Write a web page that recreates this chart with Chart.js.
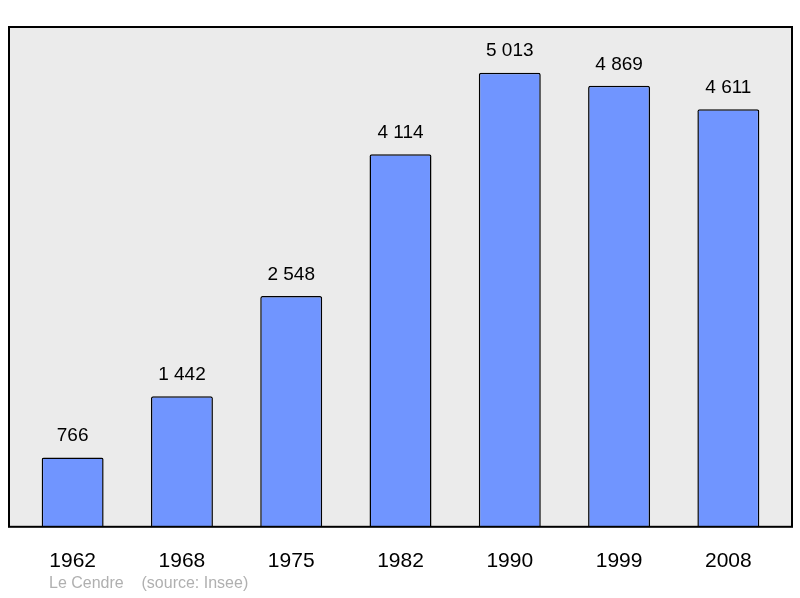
<!DOCTYPE html>
<html><head><meta charset="utf-8">
<script src="https://cdn.jsdelivr.net/npm/chart.js@4"></script>
<style>html,body{margin:0;padding:0;background:#fff}#w{width:800px;height:598px}</style>
</head><body><div id="w"><canvas id="c"></canvas></div>
<script>
const years = ["1962","1968","1975","1982","1990","1999","2008"];
const population = [766,1442,2548,4114,5013,4869,4611];
const valueLabels = ["766","1 442","2 548","4 114","5 013","4 869","4 611"];
const footerText = "Le Cendre    (source: Insee)";

const boxPlugin = {
  id:'box',
  beforeDatasetsDraw(chart){
    const a=chart.chartArea, c=chart.ctx;
    c.save();
    c.fillStyle='#ebebeb';
    c.fillRect(a.left-9,a.top,a.width+18,a.bottom-a.top);
    c.restore();
  },
  afterDatasetsDraw(chart){
    const a=chart.chartArea, c=chart.ctx;
    c.save();
    c.strokeStyle='#000';c.lineWidth=2;
    c.strokeRect(a.left-9,a.top,a.width+18,a.bottom-a.top);
    const meta=chart.getDatasetMeta(0);
    c.fillStyle='#000';c.font='19px "Liberation Sans", Arial, sans-serif';
    c.textAlign='center';c.textBaseline='bottom';
    meta.data.forEach((b,i)=>c.fillText(valueLabels[i],b.x,b.y-12));
    c.fillStyle='#b0b0b0';c.font='16px "Liberation Sans", Arial, sans-serif';
    c.textAlign='left';c.textBaseline='middle';
    c.fillText(footerText,49,584);
    c.restore();
  }
};

new Chart(document.getElementById('c'),{
  type:'bar',
  data:{labels:years,datasets:[{data:population,backgroundColor:'#7095ff',borderColor:'#000',borderWidth:1.5,borderRadius:2,borderSkipped:'bottom',barPercentage:0.567,categoryPercentage:1}]},
  options:{
    responsive:true,maintainAspectRatio:false,animation:false,
    layout:{padding:{left:18,right:17,top:27,bottom:10}},
    plugins:{legend:{display:false},tooltip:{enabled:false}},
    scales:{
      x:{grid:{display:false},border:{display:false},ticks:{color:'#000',padding:14,font:{size:21,family:'"Liberation Sans", Arial, sans-serif'}}},
      y:{display:false,min:0,max:5518}
    }
  },
  plugins:[boxPlugin]
});
</script></body></html>
